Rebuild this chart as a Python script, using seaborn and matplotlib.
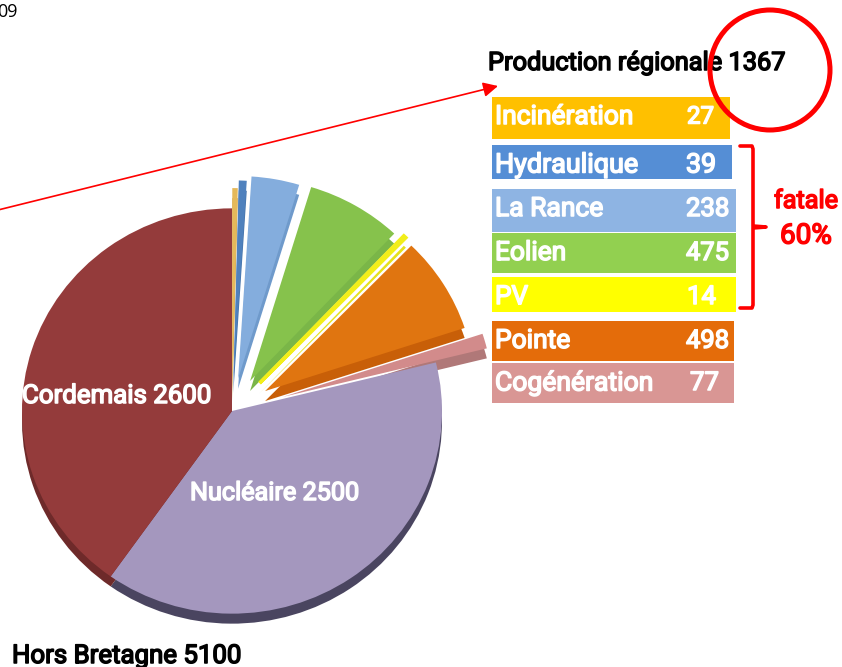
import matplotlib
matplotlib.use("Agg")
import matplotlib.pyplot as plt
import matplotlib.patheffects as pe
from matplotlib.patches import Rectangle, Circle
import seaborn as sns

# Data
sources = ["Incinération", "Hydraulique", "La Rance", "Eolien", "PV", "Pointe", "Cogénération", "Nucléaire", "Cordemais"]
values = [27, 39, 238, 475, 14, 498, 77, 2500, 2600]
slice_colors = ["#E5B95A", "#4F81BD", "#84ADDD", "#86C24C", "#F2EE1A", "#E07510", "#D28B8B", "#A497BE", "#943B3B"]
side_colors = ["#C9A250", "#4674AA", "#6F9ACB", "#7AB648", "#E6E21A", "#C85F08", "#B07878", "#4A4560", "#6E2A2A"]
box_colors = ["#FFC000", "#558ED5", "#8EB4E3", "#92D050", "#FFFF00", "#E46C0A", "#D99694"]
box_labels = sources[:7]
box_values = values[:7]

sns.set_theme(style="white")
plt.rcParams["font.family"] = ["Roboto", "DejaVu Sans"]

fig = plt.figure(figsize=(8.42, 6.67), dpi=100)

# pie gets its own axes, squashed a little in y like the original
squash = 0.965
pie_ax = fig.add_axes([0, 0, 1, 1])
explode = [21, 29, 34, 36, 40, 39, 53, 0, 0]
# y axis is flipped below, so counterclock draws clockwise on screen
pie_ax.pie(values, colors=side_colors, explode=explode, center=(232, 421 / squash), radius=210,
           startangle=-90, counterclock=True, wedgeprops={"linewidth": 0, "zorder": 1})
wedges, _ = pie_ax.pie(values, colors=slice_colors, explode=explode, center=(232, 411 / squash), radius=210,
                       startangle=-90, counterclock=True, wedgeprops={"linewidth": 0, "zorder": 2})
# PV is only a sliver, the original shows it thicker
wedges[4].set_edgecolor(slice_colors[4])
wedges[4].set_linewidth(2.5)
pie_ax.set_xlim(0, 842)
pie_ax.set_ylim(667 / squash, 0)
pie_ax.set_aspect("auto")
pie_ax.axis("off")

ax = fig.add_axes([0, 0, 1, 1])
ax.set_xlim(0, 842)
ax.set_ylim(667, 0)
ax.axis("off")
ax.patch.set_alpha(0)

renderer = fig.canvas.get_renderer()


def label(x, y, s, width, color="black", ha="left"):
    # the original text is squeezed, so size each string to its measured width
    t = ax.text(x, y, s, color=color, fontsize=20, ha=ha, va="center", zorder=6,
                path_effects=[pe.withStroke(linewidth=1.1, foreground=color)])
    w = t.get_window_extent(renderer).width
    t.set_fontsize(min(20.5, 20 * width / w))


# legend boxes
box_left = 492
box_right = [730, 732, 736, 736, 736, 734, 734]
box_top = [97, 145, 189, 233, 277, 321, 363]
box_bottom = [139, 179, 232, 273, 312, 361, 403]
text_y = [117, 165, 209, 253, 297, 341, 383]
name_w = [138, 143, 108, 71, 33, 75, 158]
num_x = [687, 686, 686, 686, 687, 686, 690]
num_w = [27, 30, 43, 43, 29, 43, 29]
for i in range(7):
    ax.add_patch(Rectangle((box_left, box_top[i]), box_right[i] - box_left, box_bottom[i] - box_top[i],
                           facecolor=box_colors[i], edgecolor="none", zorder=3))
    label(495, text_y[i], box_labels[i], name_w[i], "white")
    label(num_x[i], text_y[i], str(box_values[i]), num_w[i], "white")

# titles
label(488, 63, "Production régionale 1367", 297)
label(12, 656, "Hors Bretagne 5100", 229)
label(22, 396, "Cordemais 2600", 189, "white")
label(190, 493, "Nucléaire 2500", 169, "white")
ax.text(18, 12, "09", fontsize=13, va="center", ha="right", color="black", family="Open Sans")

# red marks
ax.add_patch(Circle((770, 70), 60, fill=False, edgecolor="#FF0000", linewidth=3.6, zorder=7))
ax.annotate("", xy=(498, 86), xytext=(-2, 210), zorder=5,
            arrowprops=dict(arrowstyle="-|>", color="#FF0000", lw=1.2, mutation_scale=22, shrinkA=0, shrinkB=0))
ax.plot([740, 752, 753, 753, 766, 753, 753, 752, 740], [146, 146, 149, 226, 227, 228, 305, 308, 308],
        color="#FF0000", lw=2.6, zorder=5, solid_joinstyle="round")
label(806, 201, "fatale", 64, "#FF0000", ha="center")
label(806, 236, "60%", 52, "#FF0000", ha="center")

fig.savefig("out.png", dpi=100)
